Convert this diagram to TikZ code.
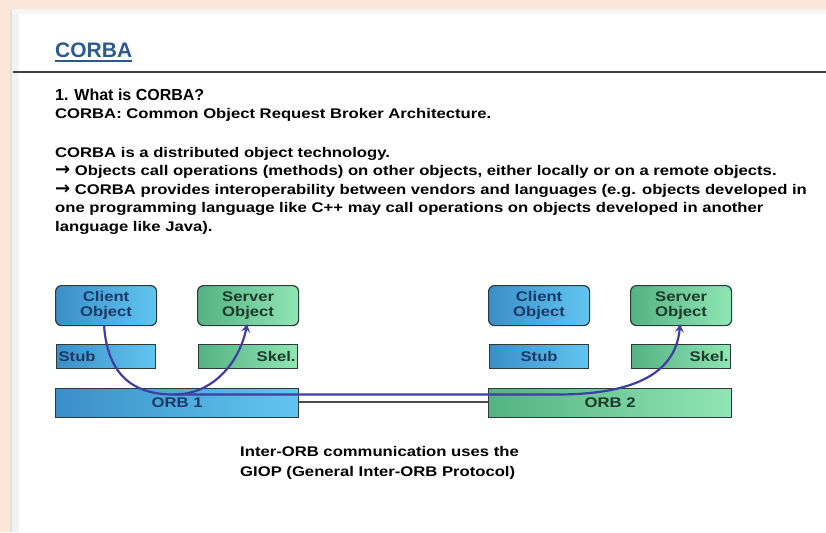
\documentclass[tikz,border=0pt]{standalone}
\usepackage{fontspec}
\setmainfont{Liberation Sans}[FakeStretch=1.19]
\newfontfamily\headfont{Liberation Sans}
\newfontfamily\arrowfont{DejaVu Sans}
\usetikzlibrary{positioning,arrows.meta}

\definecolor{peach}{HTML}{FCE6D7}
\definecolor{titleblue}{HTML}{2D5A8C}
\definecolor{boxline}{HTML}{2B3B3B}
\definecolor{blueL}{HTML}{3A8FC8}
\definecolor{blueR}{HTML}{62C5F0}
\definecolor{greenL}{HTML}{55B282}
\definecolor{greenR}{HTML}{90E6B5}
\definecolor{navytext}{HTML}{1B3A66}
\definecolor{greentext}{HTML}{1E3A2C}
\definecolor{callblue}{HTML}{3E3FA0}

\newcommand{\arr}{{\arrowfont\bfseries\fontsize{18}{14}\selectfont →}}

\begin{document}
\begin{tikzpicture}[x=1pt, y=-1pt,
    box/.style={draw=boxline, line width=1.2pt, inner sep=2pt, font=\fontsize{14}{14.5}\selectfont\bfseries},
    bluebox/.style={box, left color=blueL, right color=blueR, text=navytext},
    greenbox/.style={box, left color=greenL, right color=greenR, text=greentext},
    objbox/.style={rounded corners=6pt, minimum width=101pt, minimum height=40pt, align=center},
    thinbox/.style={minimum height=24pt, text width=95pt},
    orbbox/.style={minimum height=29pt, minimum width=243pt},
    body/.style={anchor=base west, font=\fontsize{14}{18.5}\selectfont\bfseries, align=left, inner sep=0pt},
    call/.style={callblue, line width=2.2pt, -{Stealth[length=8pt, width=9pt, inset=3pt]}}
  ]
  % page
  \useasboundingbox (0,0) rectangle (826,532);
  \fill[peach] (0,0) rectangle (826,532);
  \fill[white] (10,9) rectangle (826,532);
  \fill[black!12] (10,9) rectangle (12,532);
  \fill[black!5] (12,9) rectangle (19,532);
  \fill[black!4] (12,9) rectangle (826,14);

  % heading
  \node[anchor=base west, inner sep=0pt, text=titleblue, font=\headfont\fontsize{21}{21}\selectfont\bfseries] (title) at (55,58) {CORBA};
  \draw[titleblue, line width=1.6pt] ([yshift=-3pt]title.base west) -- ([yshift=-3pt]title.base east);
  \draw[black!75, line width=1.5pt] (13,72) -- (826,72);

  \node[anchor=base west, inner sep=0pt, font=\headfont\fontsize{16}{16}\selectfont\bfseries] (q) at (55,100) {1. What is CORBA?};
  \node[body] (def) at (55,118) {CORBA: Common Object Request Broker Architecture.};
  % base of a multi-line node is its last line
  \node[body] (txt) at (55,231) {CORBA is a distributed object technology.\\
    \arr{} Objects call operations (methods) on other objects, either locally or on a remote objects.\\
    \arr{} CORBA provides interoperability between vendors and languages (e.g. objects developed in\\
    one programming language like C++ may call operations on objects developed in another\\
    language like Java).};

  % ORB 1 side
  \node[bluebox, objbox, anchor=north west] (1) at (55,285) {Client\\Object};
  \node[greenbox, objbox, anchor=north west] (2) at (197,285) {Server\\Object};
  \node[bluebox, thinbox, align=left, below=18pt of 1] (3) {Stub};
  \node[greenbox, thinbox, align=right, below=18pt of 2] (4) {Skel.};
  \node[bluebox, orbbox, anchor=north west] (5) at (55,388) {ORB 1};

  % ORB 2 side
  \node[bluebox, objbox, anchor=north west] (6) at (488,285) {Client\\Object};
  \node[greenbox, objbox, anchor=north west] (7) at (630,285) {Server\\Object};
  \node[bluebox, thinbox, align=center, below=18pt of 6] (8) {Stub};
  \node[greenbox, thinbox, align=right, below=18pt of 7] (9) {Skel.};
  \node[greenbox, orbbox, anchor=north west] (10) at (488,388) {ORB 2};

  % inter-ORB link and calls
  \draw[black!70, line width=2pt] ([yshift=1.5pt]5.east) -- ([yshift=1.5pt]10.west);
  \coordinate (low) at (175,394.5);
  \draw[call] ([xshift=-2pt]1.south) .. controls +(4,55) and (140,395) .. (low)
    .. controls (215,394) and (240,360) .. ([xshift=-1pt, yshift=2pt]2.south);
  \draw[call] (low) -- (557,394.5) .. controls (640,394.5) and (676,370) .. ([xshift=-1pt, yshift=2pt]7.south);

  \node[anchor=base west, inner sep=0pt, align=left, font=\fontsize{14}{19.5}\selectfont\bfseries] (giop) at (240,476)
    {Inter-ORB communication uses the\\GIOP (General Inter-ORB Protocol)};
\end{tikzpicture}
\end{document}
